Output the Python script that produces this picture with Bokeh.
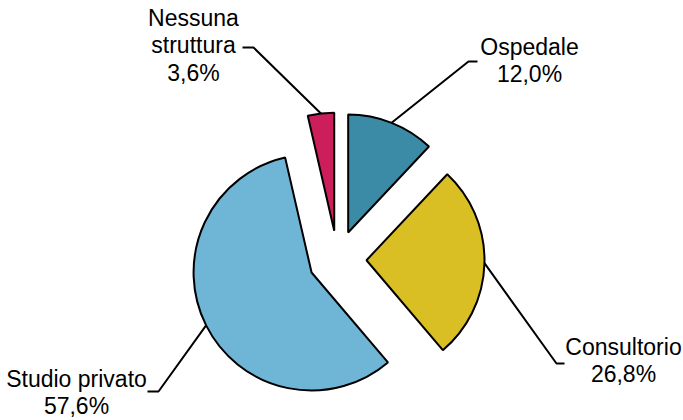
import math
from bokeh.plotting import figure
from bokeh.models import Range1d, ColumnDataSource
from bokeh.core.properties import value
from bokeh.embed import file_html
from bokeh.resources import INLINE

# ---- data ----
categories = ["Ospedale", "Consultorio", "Studio privato", "Nessuna struttura"]
name_lines = [["Ospedale"], ["Consultorio"], ["Studio privato"], ["Nessuna", "struttura"]]
values = [12.0, 26.8, 57.6, 3.6]
pct_labels = ["12,0%", "26,8%", "57,6%", "3,6%"]
colors = ["#3B8BA7", "#D9BF23", "#6FB5D6", "#CC1E5A"]

# ---- layout (reference pixel coords, y down) ----
W, H = 683, 420
CX, CY = 337, 259
R = 118
EXPLODE = 29
# label block: centre x, first baseline y ; leader elbow, leader end
label_pos = [(529, 56), (623, 356), (76, 388), (193, 27)]
elbows = [((468, 61), (477, 61)), ((556, 363), (564, 363)),
          ((158, 391), (147, 391)), ((253, 47), (242, 47))]
LINE_H = 27.5
BASE_SHIFT = -10


def Y(y):
    return H - y


total = sum(values)
xs, ys, starts, ends = [], [], [], []
lx, ly = [], []
cum = 0.0
for v in values:
    t1 = cum / total * 2 * math.pi          # clockwise from top
    t2 = (cum + v) / total * 2 * math.pi
    tm = (t1 + t2) / 2
    cum += v
    cx = CX + EXPLODE * math.sin(tm)
    cy = CY - EXPLODE * math.cos(tm)
    xs.append(cx)
    ys.append(Y(cy))
    starts.append(math.pi / 2 - t2)
    ends.append(math.pi / 2 - t1)
    lx.append(cx + R * math.sin(tm))
    ly.append(cy - R * math.cos(tm))

p = figure(width=W, height=H, output_backend="svg", toolbar_location=None,
           x_range=Range1d(0, W), y_range=Range1d(0, H),
           x_axis_location=None, y_axis_location=None, min_border=0)
p.grid.visible = False
p.outline_line_color = None
p.background_fill_color = "white"

src = ColumnDataSource(dict(x=xs, y=ys, start=starts, end=ends, color=colors, cat=categories))
p.wedge(x="x", y="y", radius=R, start_angle="start", end_angle="end",
        fill_color="color", line_color="black", line_width=2, source=src)

# leader lines
for i in range(len(values)):
    (ex, ey), (fx, fy) = elbows[i]
    p.line([lx[i], ex, fx], [Y(ly[i]), Y(ey), Y(fy)], line_color="black", line_width=2)

# labels
tx, ty, tt = [], [], []
for i in range(len(values)):
    x0, y0 = label_pos[i]
    lines = name_lines[i] + [pct_labels[i]]
    for k, s in enumerate(lines):
        tx.append(x0)
        ty.append(Y(y0 + k * LINE_H + BASE_SHIFT))
        tt.append(s)
p.text(x=tx, y=ty, text=tt, text_font=value("Liberation Sans"), text_font_size="23px",
       text_align="center", text_baseline="alphabetic", text_color="black")

open("out.html", "w").write(file_html(p, INLINE))
